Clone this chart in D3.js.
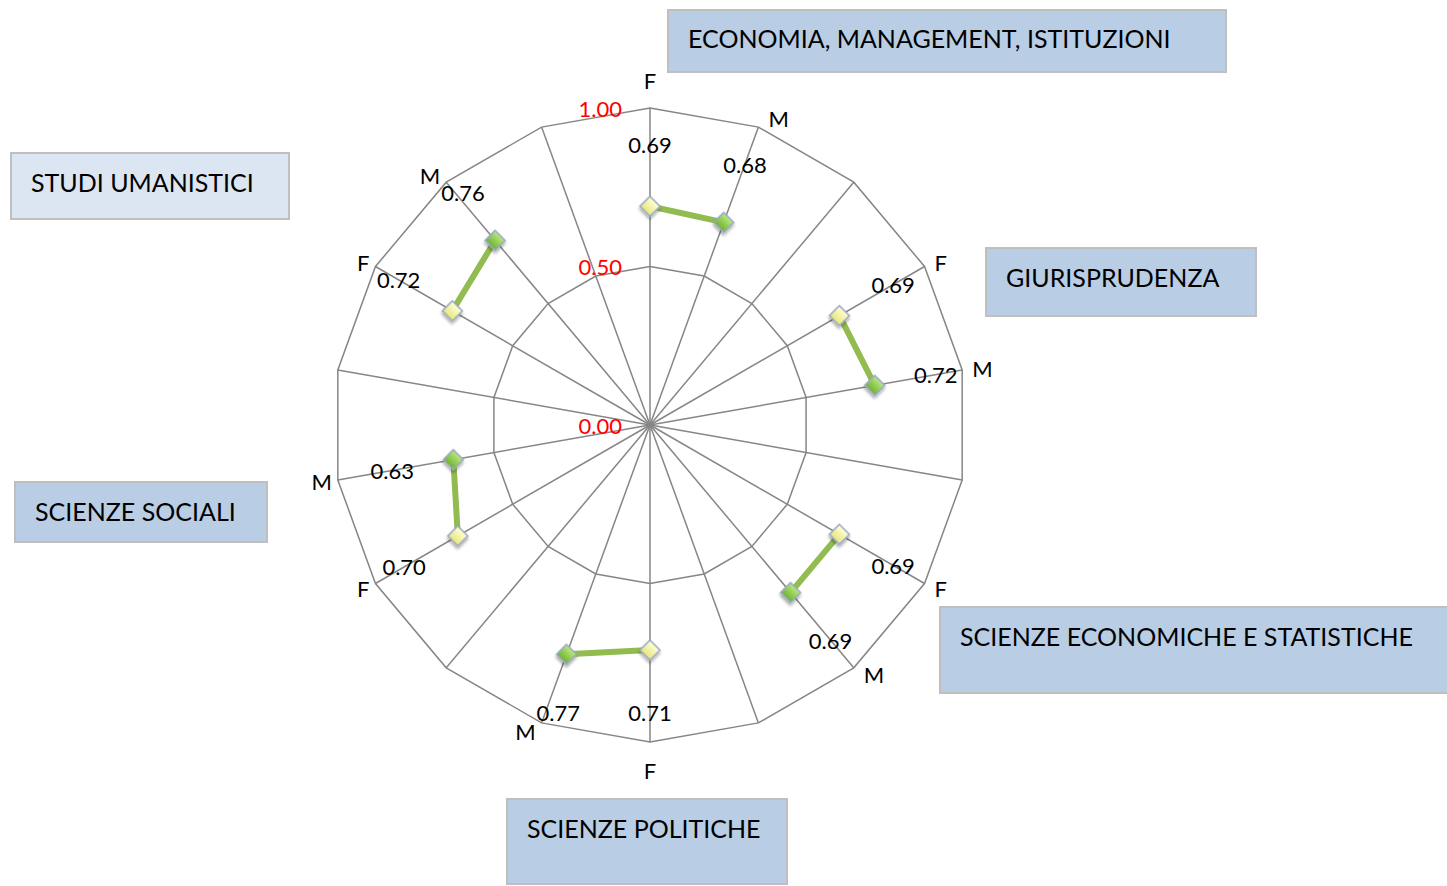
<!DOCTYPE html>
<html>
<head>
<meta charset="utf-8">
<script src="https://cdn.jsdelivr.net/npm/d3@7"></script>
<style>
  html, body { margin: 0; padding: 0; background: #fff; }
  svg { display: block; font-family: Lato, "Open Sans", sans-serif; }
</style>
</head>
<body>
<svg id="chart" width="1447" height="886"></svg>
<script>
// ---- data ----
const categories = ["F","M","","F","M","","F","M","","F","M","","F","M","","F","M",""];
const values = [0.69,0.68,null,0.69,0.72,null,0.69,0.69,null,0.71,0.77,null,0.70,0.63,null,0.72,0.76,null];
const groupLabels = ["ECONOMIA, MANAGEMENT, ISTITUZIONI","GIURISPRUDENZA","SCIENZE ECONOMICHE E STATISTICHE","SCIENZE POLITICHE","SCIENZE SOCIALI","STUDI UMANISTICI"];
const tickValues = [0, 0.5, 1.0];
const tickLabels = ["0.00","0.50","1.00"];

// ---- layout ----
const svg = d3.select("#chart");
const cx = 650, cy = 425, R = 317;
const rScale = d3.scaleLinear().domain([0, 1]).range([0, R]);
const aScale = d3.scaleLinear().domain([0, categories.length]).range([0, 2 * Math.PI]);
const pt = (i, r) => [cx + r * Math.sin(aScale(i)), cy - r * Math.cos(aScale(i))];

const boxes = [
  {x: 668, y: 10, w: 558, h: 62, ty: 38, fill: "#b9cde5"},
  {x: 986, y: 248, w: 270, h: 68, ty: 277, fill: "#b9cde5"},
  {x: 940, y: 607, w: 510, h: 86, ty: 636, fill: "#b9cde5"},
  {x: 507, y: 799, w: 280, h: 85, ty: 828, fill: "#b9cde5"},
  {x: 15, y: 482, w: 252, h: 60, ty: 511, fill: "#b9cde5"},
  {x: 11, y: 153, w: 278, h: 66, ty: 182, fill: "#dce6f2"}
];

// defs
const defs = svg.append("defs");
const gy = defs.append("linearGradient").attr("id", "gYel").attr("x1", 0).attr("y1", 0).attr("x2", 0).attr("y2", 1);
gy.append("stop").attr("offset", "0%").attr("stop-color", "#ffffd8");
gy.append("stop").attr("offset", "100%").attr("stop-color", "#e6e67a");
const gg = defs.append("linearGradient").attr("id", "gGrn").attr("x1", 0).attr("y1", 0).attr("x2", 0).attr("y2", 1);
gg.append("stop").attr("offset", "0%").attr("stop-color", "#b8ea7c");
gg.append("stop").attr("offset", "100%").attr("stop-color", "#6fb030");
const sh = defs.append("filter").attr("id", "shadow").attr("x", "-50%").attr("y", "-50%").attr("width", "200%").attr("height", "200%");
sh.append("feDropShadow").attr("dx", 1.5).attr("dy", 2).attr("stdDeviation", 1.5).attr("flood-color", "#000").attr("flood-opacity", 0.35);

// label boxes
const bg = svg.append("g");
boxes.forEach((b, i) => {
  bg.append("rect").attr("x", b.x).attr("y", b.y).attr("width", b.w).attr("height", b.h)
    .attr("fill", b.fill).attr("stroke", "#bfbfbf").attr("stroke-width", 2);
  bg.append("text").attr("x", b.x + 20).attr("y", b.ty).attr("dominant-baseline", "central")
    .attr("font-size", 25).attr("fill", "#000").text(groupLabels[i]);
});

// grid polygons
const grid = svg.append("g");
tickValues.filter(v => v > 0).forEach(v => {
  const pts = categories.map((c, i) => pt(i, rScale(v)));
  grid.append("polygon").attr("points", pts.map(p => p.join(",")).join(" "))
    .attr("fill", "none").attr("stroke", "#868686").attr("stroke-width", 1.5);
});
// spokes
categories.forEach((c, i) => {
  const p = pt(i, rScale(1));
  grid.append("line").attr("x1", cx).attr("y1", cy).attr("x2", p[0]).attr("y2", p[1])
    .attr("stroke", "#868686").attr("stroke-width", 1.5);
});

// axis tick labels
tickValues.forEach((v, i) => {
  svg.append("text").attr("x", cx - 28).attr("y", cy - rScale(v))
    .attr("text-anchor", "end").attr("dominant-baseline", "central")
    .attr("font-size", 22).attr("fill", "#ff0000").text(tickLabels[i]);
});

// category labels
const catNodes = [];
categories.forEach((c, i) => {
  if (!c) return;
  const a = aScale(i);
  const s = Math.sin(a), co = Math.cos(a);
  const v = pt(i, rScale(1));
  let x, y, anchor;
  if (Math.abs(s) < 0.1) {
    anchor = "middle"; x = v[0]; y = v[1] - co * 28;
  } else {
    anchor = s > 0 ? "start" : "end";
    x = v[0] + (s > 0 ? 10 : -6);
    y = v[1] - co * 9;
  }
  const t = svg.append("text").attr("x", x).attr("y", y).attr("text-anchor", anchor)
    .attr("dominant-baseline", "central").attr("font-size", 22).text(c);
  catNodes.push(t.node());
});

// series line
const radialLine = d3.lineRadial()
  .defined(d => d.v != null)
  .angle(d => aScale(d.i))
  .radius(d => rScale(d.v));
const seriesData = values.map((v, i) => ({i, v}));
svg.append("path").attr("transform", `translate(${cx},${cy})`)
  .attr("d", radialLine(seriesData))
  .attr("fill", "none").attr("stroke", "#92bb50").attr("stroke-width", 6);

// markers
const sym = d3.symbol().type(d3.symbolSquare).size(200);
seriesData.filter(d => d.v != null).forEach(d => {
  const p = pt(d.i, rScale(d.v));
  svg.append("path").attr("d", sym())
    .attr("transform", `translate(${p[0]},${p[1]}) rotate(45)`)
    .attr("fill", categories[d.i] === "F" ? "url(#gYel)" : "url(#gGrn)")
    .attr("stroke", "#9aa8c4").attr("stroke-width", 1.5)
    .attr("filter", "url(#shadow)");
});

// value labels (with small collision nudge away from category labels)
const catBoxes = catNodes.map(n => n.getBBox());
seriesData.filter(d => d.v != null).forEach(d => {
  const p = pt(d.i, rScale(d.v) + 62);
  const t = svg.append("text").attr("x", p[0]).attr("y", p[1])
    .attr("text-anchor", "middle").attr("dominant-baseline", "central")
    .attr("font-size", 22).attr("fill", "#000").text(d3.format(".2f")(d.v));
  const b = t.node().getBBox();
  const pad = 1;
  catBoxes.forEach(c => {
    const ox = Math.min(b.x + b.width, c.x + c.width) - Math.max(b.x, c.x);
    const oy = Math.min(b.y + b.height - 4, c.y + c.height - 4) - Math.max(b.y + 4, c.y + 4);
    if (ox > 0 && oy > 0) {
      const dir = (b.x + b.width / 2) > (c.x + c.width / 2) ? 1 : -1;
      const nx = p[0] + dir * (ox + pad);
      t.attr("x", nx);
    }
  });
});
</script>
</body>
</html>
